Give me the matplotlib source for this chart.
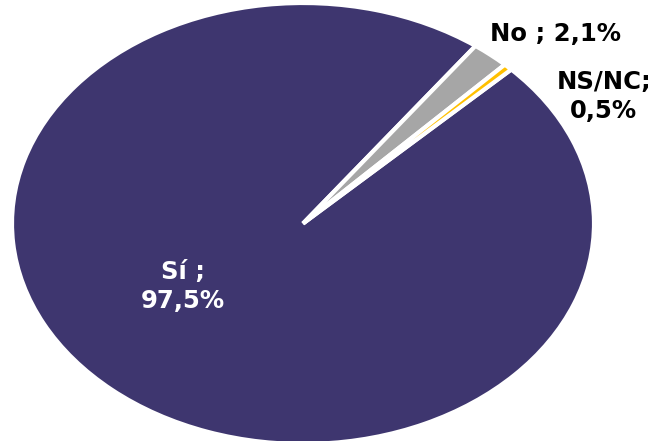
import matplotlib.pyplot as plt

# Data
categories = ['Sí', 'No', 'NS/NC']
values = [97.5, 2.1, 0.5]
colors = ['#3E366F', '#A6A6A6', '#FFC000']

# Label texts (Spanish decimal comma)
labels = ['Sí ;\n97,5%', 'No ; 2,1%', 'NS/NC;\n0,5%']

fig = plt.figure(figsize=(6.64, 4.41), dpi=100)
ax = fig.add_axes([12 / 664, -3 / 441, 582 / 664, 441 / 441])

ax.pie(values, colors=colors, startangle=44.3, counterclock=False,
       wedgeprops=dict(edgecolor='white', linewidth=3), radius=1.0)
ax.set_aspect('auto')
ax.set_xlim(-1, 1)
ax.set_ylim(-1, 1)
ax.axis('off')

font = dict(family='DejaVu Sans', fontsize=17.5, fontweight='bold')
ax.text(-0.412, -0.286, labels[0], color='white', ha='center', va='center',
        linespacing=1.25, **font)
ax.text(0.869, 0.859, labels[1], color='black', ha='center', va='center', **font)
ax.text(1.034, 0.577, labels[2], color='black', ha='center', va='center',
        linespacing=1.25, **font)

fig.savefig('out.png', dpi=100)
